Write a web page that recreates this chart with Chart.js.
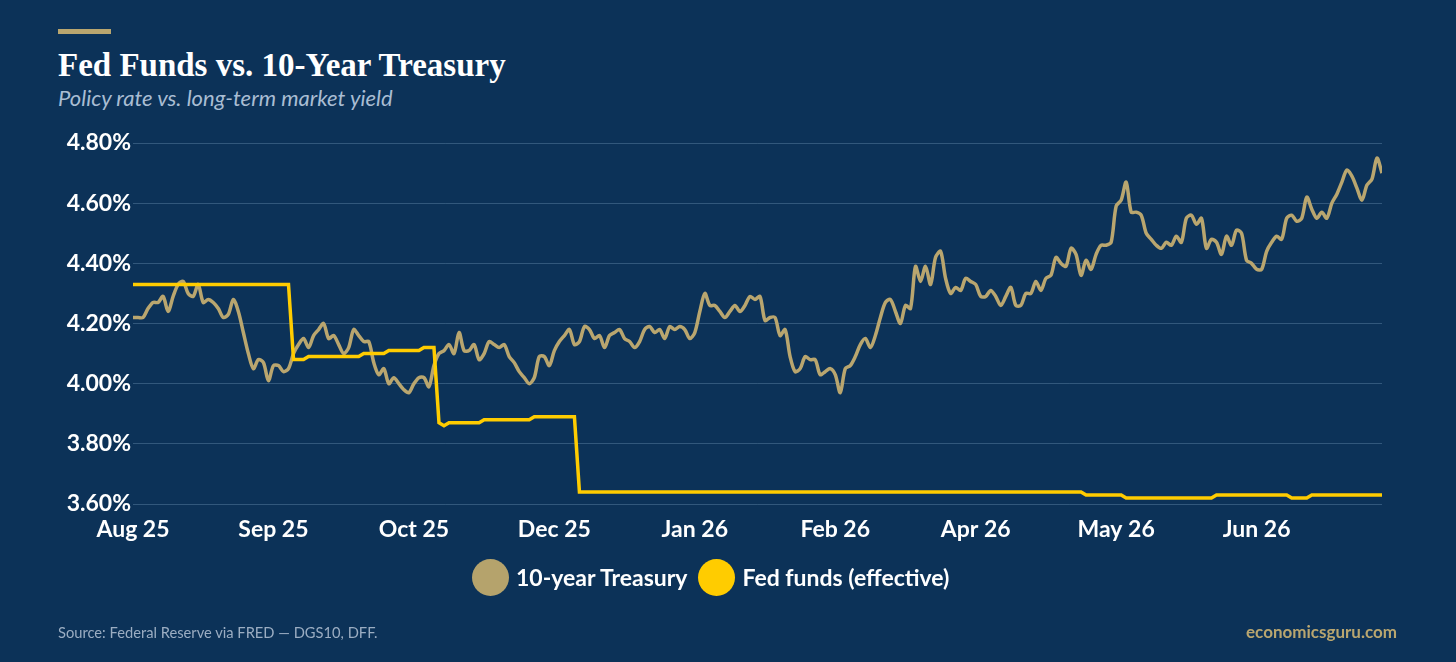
<!DOCTYPE html>
<html>
<head>
<meta charset="utf-8">
<title>Fed Funds vs. 10-Year Treasury</title>
<script src="https://cdn.jsdelivr.net/npm/chart.js@4.4.1/dist/chart.umd.min.js"></script>
<style>
  html, body { margin: 0; padding: 0; background: #0c3258; }
  body { width: 1456px; height: 662px; position: relative; overflow: hidden; font-family: Lato, sans-serif; }
  #chart { position: absolute; left: 0; top: 0; }
  .accent { position: absolute; left: 58px; top: 29px; width: 53px; height: 5px; background: #b9a66f; }
  h1 { position: absolute; margin: 0; left: 58px; top: 49px; font: 700 33px/33px "Liberation Serif", serif; color: #fff; white-space: nowrap; }
  .sub { position: absolute; left: 58px; top: 87px; font: italic 400 22px/22px Lato, sans-serif; color: #a9bdd3; white-space: nowrap; }
  .legend { position: absolute; left: 472px; top: 558px; height: 38px; display: flex; align-items: center; color: #fff; font: 700 23px/38px Lato, sans-serif; white-space: nowrap; }
  .legend .dot { width: 37px; height: 37px; border-radius: 50%; margin-right: 7px; }
  .legend .item { display: flex; align-items: center; margin-right: 11px; }
  .source { position: absolute; left: 58px; top: 625px; font: 400 14.7px/15px Lato, sans-serif; color: #9badc2; white-space: nowrap; }
  .brand { position: absolute; right: 59px; top: 623px; font: 700 17px/17px Lato, sans-serif; color: #b9a66f; white-space: nowrap; }
</style>
</head>
<body>
<div class="accent"></div>
<h1>Fed Funds vs. 10-Year Treasury</h1>
<div class="sub">Policy rate vs. long-term market yield</div>
<canvas id="chart" width="1456" height="662"></canvas>
<div class="legend" id="legend"></div>
<div class="source">Source: Federal Reserve via FRED — DGS10, DFF.</div>
<div class="brand">economicsguru.com</div>
<script>
// ─── Data ─────────────────────────────────────────────────────────────────────
// x = trading-day index from the start of the window
const tickDays = [0, 28, 56, 84, 112, 140, 168, 196, 224];
const tickLabels = ['Aug 25', 'Sep 25', 'Oct 25', 'Dec 25', 'Jan 26', 'Feb 26', 'Apr 26', 'May 26', 'Jun 26'];
const yTicks = [3.6, 3.8, 4.0, 4.2, 4.4, 4.6, 4.8];

// 10-year Treasury yield, one value per trading day (%)
const treasury = [
  4.22, 4.22, 4.22, 4.25, 4.27, 4.27, 4.29, 4.24, 4.29, 4.33,
  4.34, 4.30, 4.29, 4.33, 4.27, 4.28, 4.27, 4.25, 4.22, 4.23,
  4.28, 4.24, 4.17, 4.10, 4.05, 4.08, 4.07, 4.01, 4.06, 4.06,
  4.04, 4.05, 4.10, 4.13, 4.15, 4.12, 4.16, 4.18, 4.20, 4.15,
  4.16, 4.13, 4.10, 4.12, 4.18, 4.16, 4.14, 4.14, 4.07, 4.03,
  4.05, 4.00, 4.02, 4.00, 3.98, 3.97, 4.00, 4.02, 4.02, 3.99,
  4.06, 4.10, 4.11, 4.13, 4.10, 4.17, 4.11, 4.11, 4.13, 4.08,
  4.10, 4.14, 4.13, 4.12, 4.13, 4.09, 4.07, 4.04, 4.02, 4.00,
  4.02, 4.09, 4.09, 4.06, 4.11, 4.14, 4.16, 4.18, 4.13, 4.14,
  4.19, 4.18, 4.15, 4.16, 4.12, 4.16, 4.17, 4.18, 4.15, 4.14,
  4.12, 4.14, 4.18, 4.19, 4.17, 4.18, 4.15, 4.19, 4.18, 4.19,
  4.18, 4.15, 4.17, 4.24, 4.30, 4.26, 4.26, 4.24, 4.22, 4.24,
  4.26, 4.24, 4.26, 4.29, 4.28, 4.29, 4.21, 4.22, 4.22, 4.16,
  4.18, 4.09, 4.04, 4.05, 4.09, 4.08, 4.08, 4.03, 4.04, 4.05,
  4.03, 3.97, 4.05, 4.06, 4.09, 4.13, 4.15, 4.12, 4.16, 4.22,
  4.27, 4.28, 4.24, 4.20, 4.26, 4.25, 4.39, 4.34, 4.39, 4.33,
  4.42, 4.44, 4.35, 4.30, 4.32, 4.31, 4.35, 4.34, 4.33, 4.29,
  4.29, 4.31, 4.29, 4.26, 4.29, 4.32, 4.26, 4.26, 4.30, 4.30,
  4.34, 4.31, 4.35, 4.36, 4.42, 4.40, 4.39, 4.45, 4.43, 4.36,
  4.41, 4.38, 4.43, 4.46, 4.46, 4.47, 4.59, 4.61, 4.67, 4.57,
  4.57, 4.56, 4.50, 4.48, 4.46, 4.45, 4.47, 4.46, 4.49, 4.47,
  4.55, 4.56, 4.53, 4.55, 4.45, 4.48, 4.47, 4.43, 4.49, 4.46,
  4.51, 4.50, 4.41, 4.40, 4.38, 4.38, 4.44, 4.47, 4.49, 4.48,
  4.55, 4.56, 4.54, 4.55, 4.62, 4.58, 4.55, 4.57, 4.55, 4.60,
  4.63, 4.67, 4.71, 4.69, 4.65, 4.61, 4.66, 4.68, 4.75, 4.70
];

// Fed funds (effective), trading days where the rate changes (%)
const fedDay  = [0, 31, 32, 34, 35, 45, 46, 50, 51, 57, 58, 60, 61, 62, 63, 69, 70, 79, 80, 88, 89, 189, 190, 197, 198, 215, 216, 230, 231, 234, 235, 249];
const fedRate = [4.33, 4.33, 4.08, 4.08, 4.09, 4.09, 4.10, 4.10, 4.11, 4.11, 4.12, 4.12, 3.87, 3.86, 3.87, 3.87, 3.88, 3.88, 3.89, 3.89, 3.64, 3.64, 3.63, 3.63, 3.62, 3.62, 3.63, 3.63, 3.62, 3.62, 3.63, 3.63];

const seriesNames = ['10-year Treasury', 'Fed funds (effective)'];

// ─── Style ────────────────────────────────────────────────────────────────────
const TSY_COLOR = '#b9a66f';
const FED_COLOR = '#ffcc00';
const GRID_COLOR = 'rgba(150,185,220,0.28)';
const TICK_FONT = { family: 'Lato', size: 23, weight: '700' };

// ─── Legend ───────────────────────────────────────────────────────────────────
document.getElementById('legend').innerHTML = seriesNames.map((name, i) =>
  `<span class="item"><span class="dot" style="background:${i === 0 ? '#b5a36c' : FED_COLOR}"></span>${name}</span>`
).join('');

// ─── Chart ────────────────────────────────────────────────────────────────────
new Chart(document.getElementById('chart'), {
  type: 'line',
  data: {
    datasets: [
      {
        label: seriesNames[1],
        data: fedDay.map((x, i) => ({ x, y: fedRate[i] })),
        borderColor: FED_COLOR,
        borderWidth: 3.5,
        pointRadius: 0,
        tension: 0,
        order: 0
      },
      {
        label: seriesNames[0],
        data: treasury.map((y, i) => ({ x: i, y })),
        borderColor: TSY_COLOR,
        borderWidth: 3.5,
        pointRadius: 0,
        tension: 0.3,
        order: 1
      }
    ]
  },
  options: {
    responsive: false,
    animation: false,
    layout: { padding: { left: 0, right: 74, top: 143, bottom: 118 } },
    plugins: { legend: { display: false }, tooltip: { enabled: false } },
    scales: {
      x: {
        type: 'linear',
        min: 0,
        max: treasury.length - 1,
        grid: { display: false },
        border: { display: false },
        afterBuildTicks: s => { s.ticks = tickDays.map(v => ({ value: v })); },
        afterFit: s => { s.height = 40; },
        ticks: {
          color: '#fff', font: TICK_FONT, padding: 4, maxRotation: 0, autoSkip: false,
          callback: v => tickLabels[tickDays.indexOf(v)]
        }
      },
      y: {
        min: yTicks[0],
        max: yTicks[yTicks.length - 1],
        afterBuildTicks: s => { s.ticks = yTicks.map(v => ({ value: v })); },
        afterFit: s => { s.width = 133; },
        grid: { color: GRID_COLOR, drawTicks: false, lineWidth: 1 },
        border: { display: false },
        ticks: { color: '#fff', font: TICK_FONT, padding: 2, callback: v => v.toFixed(2) + '%' }
      }
    }
  }
});
</script>
</body>
</html>
